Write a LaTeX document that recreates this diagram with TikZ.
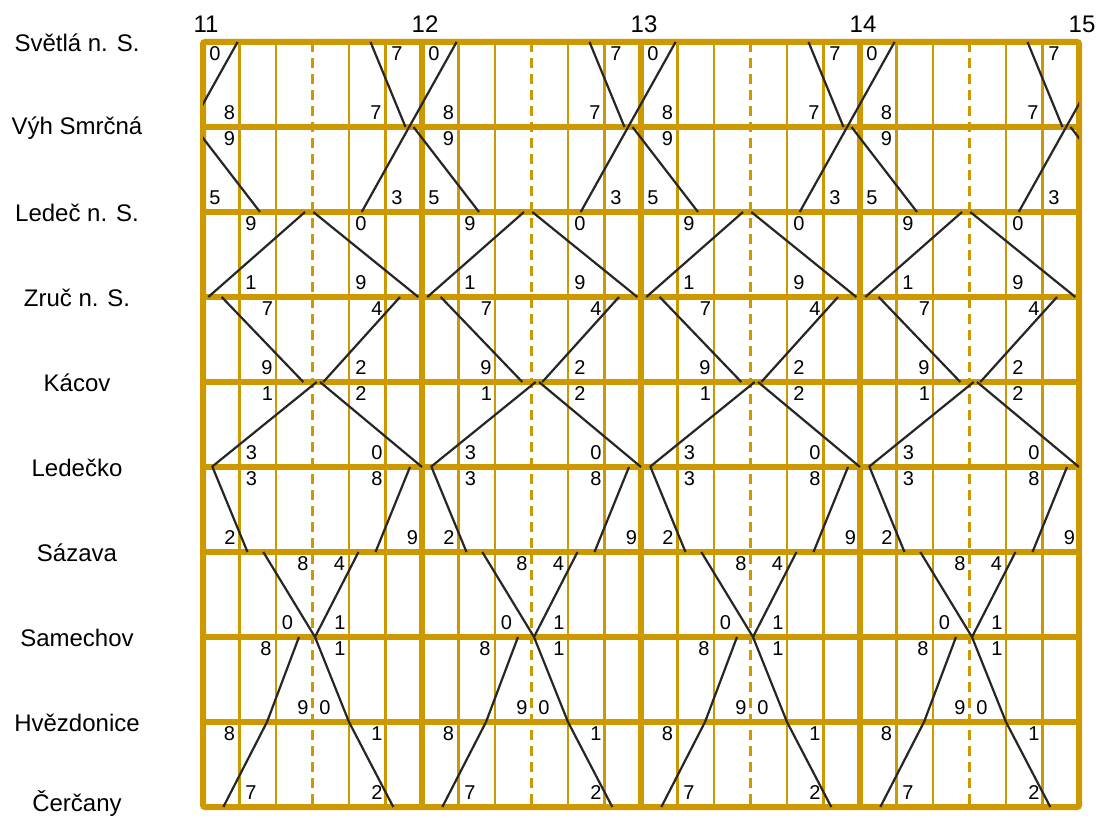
\documentclass[tikz,border=0pt]{standalone}
\usepackage{fontspec}
\setmainfont{Liberation Sans}
\usetikzlibrary{calc}
\definecolor{gold}{RGB}{204,153,0}

\begin{document}
\begin{tikzpicture}[
  x=1pt, y=-1pt,
  major/.style={draw=gold, line width=6pt},
  minor/.style={draw=gold, line width=2.2pt},
  halfhr/.style={draw=gold, line width=2.2pt, dash pattern=on 10pt off 6pt},
  train/.style={draw=black!85, line width=2.2pt},
  stname/.style={font=\fontsize{24}{28}\selectfont, inner sep=0pt},
  hrlab/.style={font=\fontsize{24}{28}\selectfont, inner sep=0pt},
  mn/.style={font=\fontsize{20}{24}\selectfont, inner sep=0pt}
  ]
  \useasboundingbox (0,0) rectangle (1100,818);
  % stations
  \foreach \name [count=\i from 0] in {Světlá n. S., Výh Smrčná, Ledeč n. S., Zruč n. S., Kácov, Ledečko, Sázava, Samechov, Hvězdonice}
    \node[stname] (st\i) at (77, 43+85*\i) {\name};
  \node[stname] (st9) at (77, 803) {Čerčany};
  % hours
  \foreach \h [count=\k from 0] in {11,...,15}
    \node[hrlab] (h\h) at (206+219*\k, 24) {\h};
  % 10 min grid
  \foreach \k in {0,...,3} {
    \foreach \m in {1,2,4,5}
      \draw[minor] (203+219*\k+36.5*\m, 42) -- ++(0,765);
    \draw[halfhr] (203+219*\k+109.5, 42) -- ++(0,765);
  }
  % station lines and hour lines
  \foreach \i in {1,...,8}
    \draw[major] (203, 42+85*\i) -- (1079, 42+85*\i);
  \foreach \k in {1,2,3}
    \draw[major] (203+219*\k, 42) -- ++(0,765);
  \draw[major, rounded corners=2pt] (203,42) rectangle (1079,807);
  % trains, one pattern per hour
  \begin{scope}
    \clip (203,42) rectangle (1079,807);
    \foreach \k in {0,...,4} {
      \coordinate (o\k) at (203+219*\k, 0);
      \draw[train] ($(o\k)+(34.6,42)$) -- ($(o\k)+(-60.3,212)$);
      \foreach \r/\a/\b in {0/167.5/202.5, 1/-8.5/57, 2/102/5.3, 2/110.3/215.3,
          3/18.7/100.3, 3/197/120.3, 4/113.7/8.7, 4/117/219, 5/9.5/44.5,
          5/207/172.5, 6/60.3/112, 6/155.5/112, 7/96/64, 7/112/146,
          8/64/20.3, 8/146/190.3}
        \draw[train] ($(o\k)+(\a,42+85*\r)$) -- ($(o\k)+(\b,127+85*\r)$);
    }
  \end{scope}
  % minutes
  \foreach \k in {0,...,3}
    \foreach \r/\dy/\x/\t [count=\n] in {0/12/12/0, 0/12/194/7,
        1/-14/26.5/8, 1/-14/173/7, 1/12/26.5/9,
        2/-14/12/5, 2/-14/194/3, 2/12/48/9, 2/12/158/0,
        3/-14/48/1, 3/-14/158/9, 3/12/64.5/7, 3/12/174/4,
        4/-14/64/9, 4/-14/158/2, 4/12/64.5/1, 4/12/158/2,
        5/-14/48.5/3, 5/-14/174/0, 5/12/48.5/3, 5/12/174/8,
        6/-14/27/2, 6/-14/209.5/9, 6/12/100/8, 6/12/136.5/4,
        7/-14/84.5/0, 7/-14/137/1, 7/12/63/8, 7/12/137/1,
        8/-14/100/9, 8/-14/122/0, 8/12/26.5/8, 8/12/174/1,
        9/-14/48/7, 9/-14/174/2}
      \node[mn] (m\k-\n) at (203+219*\k+\x, 42+85*\r+\dy) {\t};
\end{tikzpicture}
\end{document}
